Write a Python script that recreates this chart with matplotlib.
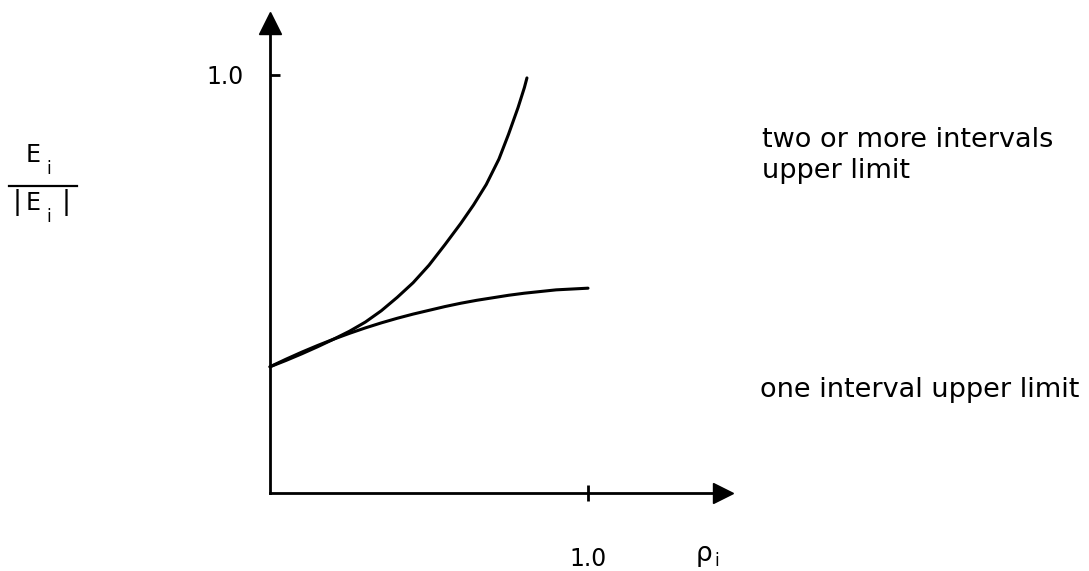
import matplotlib
matplotlib.use("Agg")
import matplotlib.pyplot as plt
from matplotlib.lines import Line2D

# Normalised error E_i/|E_i| versus rho_i for the two upper-limit curves
rho_one = [0.0, 0.05, 0.10, 0.15, 0.20, 0.25, 0.30, 0.35, 0.40, 0.45, 0.50,
           0.55, 0.60, 0.65, 0.70, 0.75, 0.80, 0.85, 0.90, 0.95, 1.0]
err_one = [0.302, 0.320, 0.337, 0.353, 0.368, 0.382, 0.395, 0.407, 0.418,
           0.428, 0.437, 0.446, 0.454, 0.461, 0.467, 0.473, 0.478, 0.482,
           0.486, 0.488, 0.490]

rho_multi = [0.0, 0.05, 0.10, 0.15, 0.20, 0.25, 0.30, 0.35, 0.40, 0.45, 0.50,
             0.55, 0.60, 0.64, 0.68, 0.72, 0.75, 0.78, 0.80, 0.808]
err_multi = [0.302, 0.317, 0.333, 0.350, 0.368, 0.387, 0.409, 0.436, 0.468,
             0.503, 0.545, 0.594, 0.645, 0.689, 0.738, 0.799, 0.858, 0.922,
             0.970, 0.993]

x_ticks = [1.0]
x_tick_labels = ["1.0"]
y_ticks = [1.0]
y_tick_labels = ["1.0"]

label_multi = ["two or more intervals", "upper limit"]
label_one = "one interval upper limit"

W, H = 1089, 571
fig = plt.figure(figsize=(W / 100, H / 100), dpi=100)
ax = fig.add_axes([0, 0, 1, 1])

# data -> pixel layout: origin at (270, 493), 1.0 at x=588 and y=75
x0, y0, sx, sy = 270, 493, 318, 418
ax.set_xlim(-x0 / sx, (W - x0) / sx)
ax.set_ylim((y0 - H) / sy, y0 / sy)

for side in ("top", "right"):
    ax.spines[side].set_visible(False)
ax.spines["left"].set_position(("data", 0))
ax.spines["bottom"].set_position(("data", 0))
ax.spines["left"].set_bounds(0, 1.10)
ax.spines["bottom"].set_bounds(0, 1.41)
for side in ("left", "bottom"):
    ax.spines[side].set_linewidth(2.0)

# arrow heads on the axes
ax.plot([0], [1.125], marker="^", color="black", markersize=16, clip_on=False)
ax.plot([1.425], [0], marker=">", color="black", markersize=14, clip_on=False)

ax.set_xticks(x_ticks)
ax.set_xticklabels(x_tick_labels)
ax.set_yticks(y_ticks)
ax.set_yticklabels(y_tick_labels)
ax.tick_params(axis="x", direction="inout", length=12, width=2, pad=33,
               labelsize=17)
ax.tick_params(axis="y", direction="in", length=7, width=2, pad=19,
               labelsize=17)

ax.plot(rho_multi, err_multi, color="black", lw=2.2,
        solid_capstyle="round", solid_joinstyle="round")
ax.plot(rho_one, err_one, color="black", lw=2.2,
        solid_capstyle="round", solid_joinstyle="round")


def ftext(px, py, s, **kw):
    fig.text(px / W, 1 - py / H, s, **kw)


# x-axis caption rho_i
ftext(704, 554, "ρ", fontsize=19, ha="center", va="center")
ftext(717, 561, "i", fontsize=12, ha="center", va="center")

# y-axis caption E_i / |E_i|
ftext(33, 155, "E", fontsize=17, ha="center", va="center")
ftext(49, 169, "i", fontsize=12, ha="center", va="center")
fig.add_artist(Line2D([9 / W, 77 / W], [1 - 186 / H, 1 - 186 / H],
                      color="black", lw=1.6))
ftext(17, 203, "|", fontsize=19, ha="center", va="center")
ftext(33, 203, "E", fontsize=17, ha="center", va="center")
ftext(49, 217, "i", fontsize=12, ha="center", va="center")
ftext(66, 203, "|", fontsize=19, ha="center", va="center")

# curve captions
ftext(762, 147, label_multi[0], fontsize=19.5, ha="left", va="baseline")
ftext(762, 178, label_multi[1], fontsize=19.5, ha="left", va="baseline")
ftext(760, 397, label_one, fontsize=19.5, ha="left", va="baseline")

fig.savefig("out.png", dpi=100)
